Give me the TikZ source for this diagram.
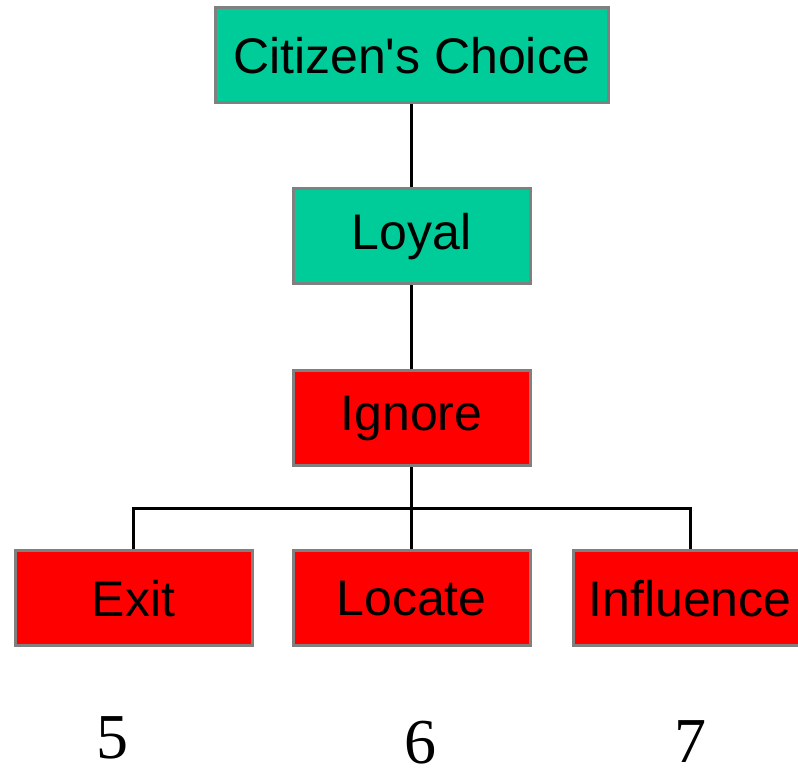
\documentclass[tikz,border=0pt]{standalone}
\usepackage{fontspec}
\setmainfont{Liberation Sans}[Ligatures=TeXOff]
\newfontfamily\numfont{Liberation Serif}
\definecolor{choicegreen}{HTML}{00CC99}
\definecolor{boxgray}{HTML}{808080}
\tikzset{
  box/.style={draw=boxgray,line width=1.5pt,minimum height=47.5pt,
    inner sep=0pt,font=\fontsize{25}{30}\selectfont},
  greenbox/.style={box,fill=choicegreen},
  redbox/.style={box,fill=red},
  number/.style={inner sep=0pt,font=\numfont\fontsize{32}{36}\selectfont},
  link/.style={line width=1.5pt}
}
\begin{document}
\begin{tikzpicture}[x=0.5pt,y=-0.5pt]
  \useasboundingbox (0,0) rectangle (798,779);
  % boxes
  \node[greenbox,minimum width=196.5pt] (choice) at (411.5,55.5) {Citizen's Choice};
  \node[greenbox,minimum width=118.5pt] (loyal) at (411.5,236.5) {Loyal};
  \node[redbox,minimum width=118.5pt] (ignore) at (411.5,418.5) {Ignore};
  \node[redbox,minimum width=118.5pt] (exit) at (133.5,598.5) {Exit};
  \node[redbox,minimum width=118.5pt] (locate) at (411.5,598.5) {Locate};
  \node[redbox,minimum width=117pt] (influence) at (690,598.5) {Influence};
  \coordinate (bus) at (411.5,509);
  % connectors
  \draw[link] (choice) -- (loyal);
  \draw[link] (loyal) -- (ignore);
  \draw[link] (ignore) -- (bus) -- (locate);
  \draw[link] (exit.north) |- (bus);
  \draw[link] (influence.north) |- (bus);
  % numbers
  \node[number] (n5) at (112,738) {5};
  \node[number] (n6) at (420,743) {6};
  \node[number] (n7) at (690,742) {7};
\end{tikzpicture}
\end{document}
